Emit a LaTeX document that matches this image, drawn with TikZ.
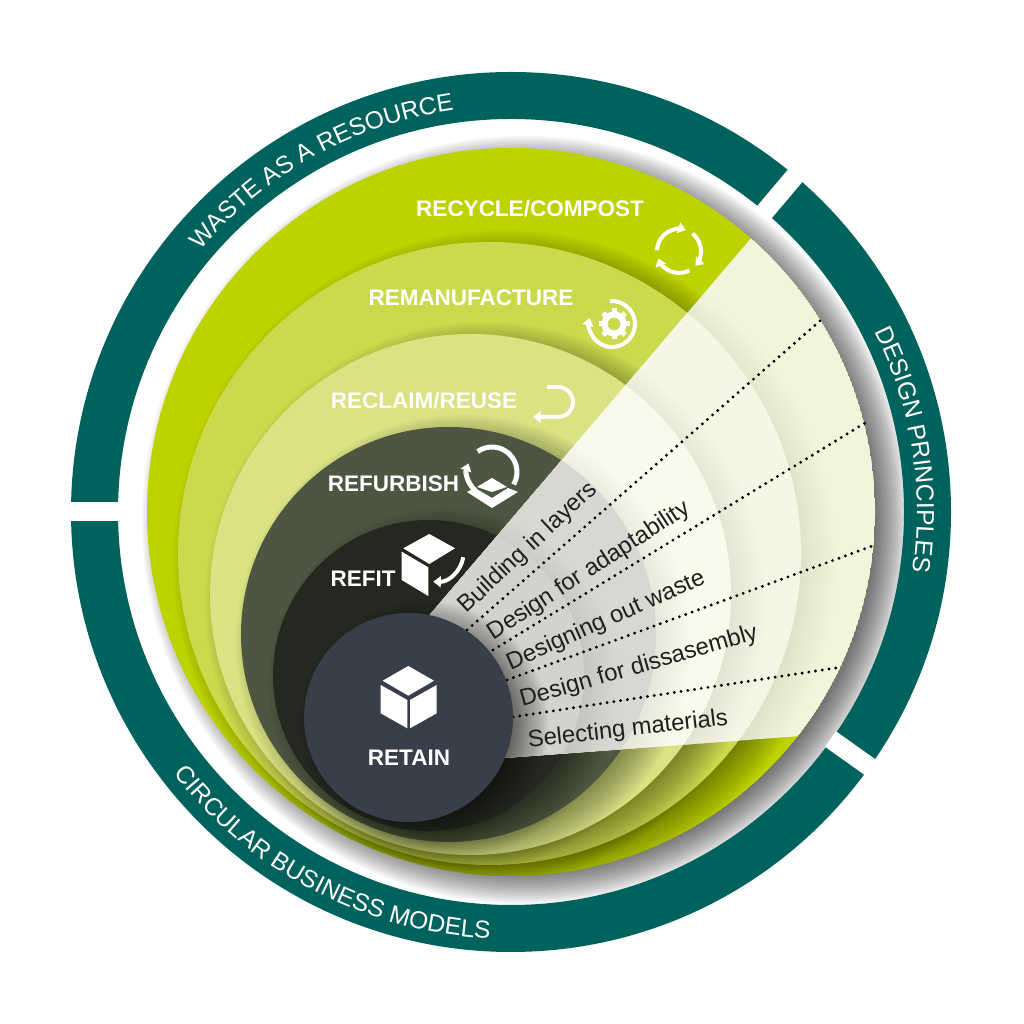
\documentclass[tikz,border=0pt]{standalone}
\usepackage{fontspec}
\setmainfont{Liberation Sans}
\usepackage{tikz}
\usetikzlibrary{arrows.meta, decorations.text}
\definecolor{ringgreen}{HTML}{00625C}
\definecolor{recyclecol}{HTML}{BED200}
\definecolor{remanucol}{HTML}{CBD94D}
\definecolor{reclaimcol}{HTML}{DAE283}
\definecolor{refurbcol}{HTML}{4C5640}
\definecolor{refitcol}{HTML}{242820}
\definecolor{retaincol}{HTML}{383F4A}
\definecolor{recyclepale}{HTML}{F2F4DC}
\definecolor{remanupale}{HTML}{F5F7E4}
\definecolor{reclaimpale}{HTML}{F8FAEC}
\definecolor{refurbpale}{HTML}{D8D7D2}
\definecolor{refitpale}{HTML}{D3D2CD}

\begin{document}
\begin{tikzpicture}[x=1pt,y=1pt]
  \tikzstyle{phase}=[text=white, font=\fontsize{22.5}{26}\selectfont\bfseries, inner sep=0pt]
  \tikzstyle{principle}=[text=black!88, font=\fontsize{23.8}{27}\selectfont, inner sep=0pt]
  \tikzstyle{rimtext}=[decorate, decoration={text along path, text align=center}]
  \tikzstyle{dotline}=[black, line width=3.2pt, line cap=round, dash pattern=on 0pt off 6.8pt]
  \tikzstyle{glyph}=[draw=white, line width=4pt]
  \tikzstyle{glyphtip}=[glyph, -{Triangle[length=7.5pt,width=11pt]}]
  \useasboundingbox (0,0) rectangle (1024,1024);
  \fill[white] (0,0) rectangle (1024,1024);
  \coordinate (mid) at (511,512);

  \foreach \i in {0,...,17}
    \fill[black, opacity=0.04] (526,504) circle ({384-2*\i});

  \fill[ringgreen, even odd rule] (mid) circle (440) (mid) circle (393);
  \foreach \a in {180,49.8,-35.4} {
    \path (mid) ++(\a:392) coordinate (gapin);
    \path (mid) ++(\a:446) coordinate (gapout);
    \draw[white, line width=19pt] (gapin) -- (gapout);
  }
  \path[rimtext, decoration={text={|\fontsize{24.6}{30}\selectfont\color{white}|WASTE AS A RESOURCE}}]
    (mid) ++(149:406) arc[start angle=149, end angle=89, radius=406];
  \path[rimtext, decoration={text={|\fontsize{24.6}{30}\selectfont\color{white}|DESIGN PRINCIPLES}}]
    (mid) ++(39:406) arc[start angle=39, end angle=-21, radius=406];
  \path[rimtext, decoration={text={|\fontsize{24.6}{30}\selectfont\color{white}|CIRCULAR BUSINESS MODELS}}]
    (mid) ++(205:427) arc[start angle=205, end angle=280, radius=427];

  \begin{scope}
    \clip (mid) circle (364);
    \fill[recyclecol] (mid) circle (364);
    \foreach \cx/\cy/\rr/\dcol in {489.5/470.5/311.5/remanucol, 470.5/429.5/260.5/reclaimcol, 448.5/389.5/207.5/refurbcol, 428.5/348.5/155.5/refitcol} {
      \foreach \i in {0,...,17}
        \fill[black, opacity=0.025] (\cx+15,\cy-8) circle ({\rr+20-2*\i});
      \fill[\dcol] (\cx,\cy) circle (\rr);
    }
    \clip (416,393) -- (845,896) -- (1000,800) -- (950,299) -- (490,265) -- cycle;
    \fill[recyclepale] (mid) circle (364);
    \foreach \cx/\cy/\rr/\dcol in {489.5/470.5/311.5/remanupale, 470.5/429.5/260.5/reclaimpale, 448.5/389.5/207.5/refurbpale, 428.5/348.5/155.5/refitpale} {
      \foreach \i in {0,...,17}
        \fill[black, opacity=0.005] (\cx+15,\cy-8) circle ({\rr+20-2*\i});
      \fill[\dcol] (\cx,\cy) circle (\rr);
    }
    \foreach \i in {0,...,17}
      \fill[black, opacity=0.02] (423.5,298.5) circle ({124.5-2*\i});
  \end{scope}
  \begin{scope}
    \clip (mid) circle (364);
    \foreach \i in {0,...,17}
      \fill[black, opacity=0.012] (423.5,298.5) circle ({124.5-2*\i});
  \end{scope}

  \coordinate (d1a) at (467,394);
  \coordinate (d1b) at (821,704);
  \coordinate (d2a) at (493,374);
  \coordinate (d2b) at (865,601);
  \coordinate (d3a) at (507,344);
  \coordinate (d3b) at (875,479);
  \coordinate (d4a) at (513,307);
  \coordinate (d4b) at (842,357);
  \draw[dotline] (d1a) -- (d1b);
  \draw[dotline] (d2a) -- (d2b);
  \draw[dotline] (d3a) -- (d3b);
  \draw[dotline] (d4a) -- (d4b);

  \fill[retaincol] (408.5,306.5) circle (104.5);

  \node[principle, rotate=43] (layers) at (528,476) {Building in layers};
  \node[principle, rotate=33] (adapt) at (589,453) {Design for adaptability};
  \node[principle, rotate=24] (waste) at (606,403) {Designing out waste};
  \node[principle, rotate=16] (disasm) at (639,357) {Design for dissasembly};
  \node[principle, rotate=6.5] (select) at (628,294) {Selecting materials};

  \node[phase] (recycle) at (530,815) {RECYCLE/COMPOST};
  \node[phase] (remanu) at (471,726) {REMANUFACTURE};
  \node[phase] (reclaim) at (424,623) {RECLAIM/REUSE};
  \node[phase] (refurb) at (393.5,540) {REFURBISH};
  \node[phase] (refit) at (363,445) {REFIT};
  \node[phase] (retain) at (409,266) {RETAIN};

  \draw[glyphtip] (679,773) ++(178:22) arc[start angle=178, end angle=72, radius=22];
  \draw[glyphtip] (679,773) ++(52:22) arc[start angle=52, end angle=-42, radius=22];
  \draw[glyphtip] (679,773) ++(-62:22) arc[start angle=-62, end angle=-160, radius=22];

  \draw[glyphtip] (612,700) ++(95:23) arc[start angle=95, end angle=-195, radius=23];
  \draw[white, line width=6pt] (614,700) circle (9.5);
  \foreach \a in {0,45,...,315} {
    \path (614,700) ++(\a:11) coordinate (toothin);
    \path (614,700) ++(\a:15.5) coordinate (toothout);
    \draw[white, line width=5pt] (toothin) -- (toothout);
  }

  \draw[glyphtip] (547,637) -- (558,637) arc[start angle=90, end angle=-90, radius=15] -- (533,607);

  \draw[glyph, line width=5pt] (492,552) ++(-30:25) arc[start angle=-30, end angle=125, radius=25];
  \draw[glyphtip, line width=5pt] (492,552) ++(228:25) arc[start angle=228, end angle=160, radius=25];
  \fill[white] (492,546) -- (507,537) -- (492,532) -- (477,537) -- cycle;
  \fill[white] (467,532) -- (492,516) -- (518,532) -- (508,536) -- (492,526) -- (475,536) -- cycle;

  \fill[white] (403.3,475.7) -- (429.3,490) -- (455,475.7) -- (429.3,460) -- cycle;
  \fill[white] (401.7,472.3) -- (428.3,456.7) -- (428.3,428) -- (401.7,444) -- cycle;
  \draw[glyphtip] (463.3,466.7) to[bend left=40] (433.3,442.3);

  \fill[white] (408.3,358) -- (434,343.3) -- (408.3,328.3) -- (382.7,343.3) -- cycle;
  \fill[white] (380.7,339) -- (407.3,324) -- (407.3,295.7) -- (380.7,310.7) -- cycle;
  \fill[white] (410,324) -- (436.7,339) -- (436.7,310.7) -- (410,295.7) -- cycle;
\end{tikzpicture}
\end{document}
